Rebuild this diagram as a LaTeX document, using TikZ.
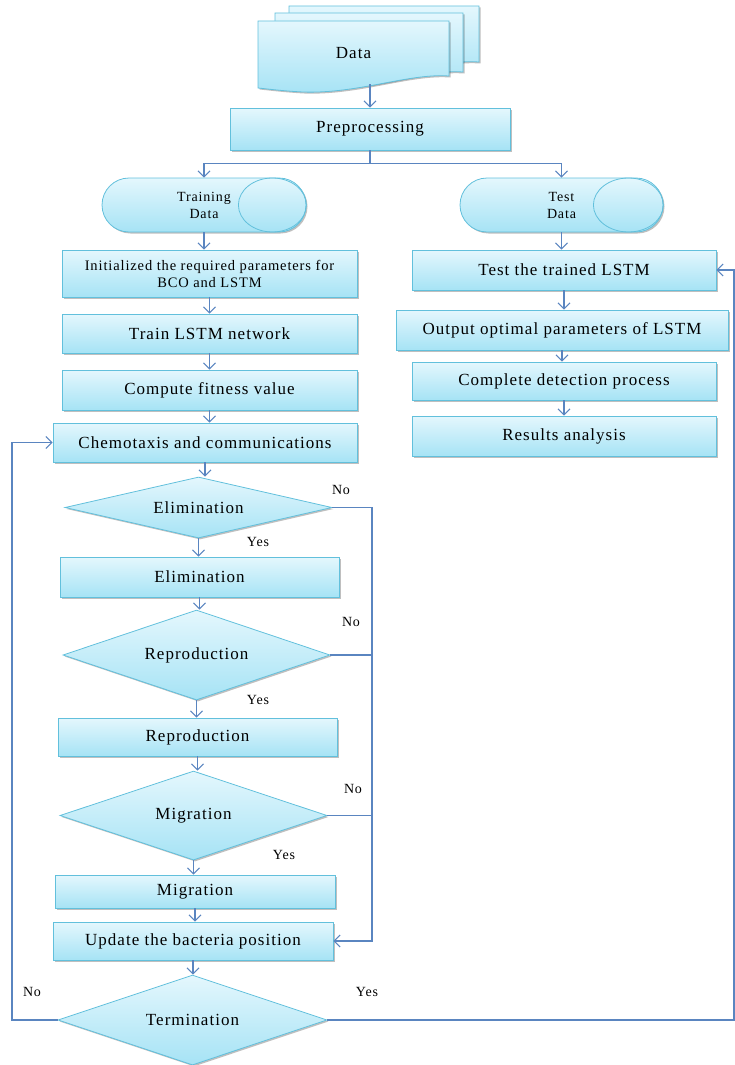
\documentclass[tikz,border=0pt]{standalone}
\usepackage{fontspec}
\setmainfont{Liberation Serif}
\newfontfamily\flowfont{Liberation Serif}[LetterSpace=6]
\usepackage{tikz}
\usetikzlibrary{arrows.meta,shapes.geometric,shapes.misc,shadows}
\definecolor{boxtop}{HTML}{E4F7FD}
\definecolor{boxbot}{HTML}{A6E3F5}
\definecolor{boxline}{HTML}{62C0DC}
\definecolor{flowline}{HTML}{5A85C0}
\def\docsheet(#1:#2:#3:#4){\draw[sheet] (#1,#3) -- (#2,#3) -- (#2,{#4-12}) .. controls ({#2-40},{#4-15}) and ({#1+100},{#4+6}) .. ({#1+45},{#4+4}) .. controls ({#1+25},{#4+3}) and ({#1+10},{#4+1}) .. (#1,#4) -- cycle;}
\tikzset{
  sheet/.style={draw=boxline, line width=0.8pt, top color=boxtop, bottom color=boxbot,
    drop shadow={shadow xshift=1.5pt, shadow yshift=-1.5pt, opacity=.25, fill=black}},
  flowbox/.style={sheet, rectangle, inner sep=2pt, font=\flowfont\fontsize{17}{20}\selectfont},
  decision/.style={flowbox, diamond, aspect=4.4, inner sep=1pt},
  store/.style={flowbox, rounded rectangle, align=center, font=\flowfont\fontsize{14}{17}\selectfont},
  flow/.style={draw=flowline, line width=1.1pt, -{Straight Barb[length=6pt,width=12pt]}},
  link/.style={draw=flowline, line width=1.1pt},
  answer/.style={inner sep=0pt, font=\flowfont\fontsize{14}{17}\selectfont}
}

\begin{document}
\begin{tikzpicture}[x=1pt,y=-1pt]
			%%%%% START %%%%%
			\useasboundingbox (0,0) rectangle (735,1065);
			
			% data pages
			\docsheet(289:479:6:74)
			\docsheet(275:463:13:84)
			\docsheet(258:449:21:88)
			\node[minimum width=191pt, minimum height=62pt, font=\flowfont\fontsize{17}{20}\selectfont] (data) at (353.5, 53) {Data};
			
			\node[flowbox, minimum width=280pt, minimum height=42pt] (prep) at (370, 129) {Preprocessing};
			
			\node[store, minimum width=208pt, minimum height=54pt] (train) at (204, 205) {Training\\Data};
			\draw[boxline, line width=0.8pt] ([xshift=-34pt]train.east) ellipse [x radius=34, y radius=27];
			\node[store, minimum width=207pt, minimum height=54pt] (test) at (561.5, 205) {Test\\Data};
			\draw[boxline, line width=0.8pt] ([xshift=-35pt]test.east) ellipse [x radius=35, y radius=27];
			
			% left column
			\node[flowbox, minimum width=295pt, minimum height=47pt, align=center, font=\flowfont\fontsize{14.5}{17}\selectfont, inner sep=1pt] (init) at (209.5, 273.5) {Initialized the required parameters for\\BCO and LSTM};
			\node[flowbox, minimum width=295pt, minimum height=39pt] (trainL) at (209.5, 333.5) {Train LSTM network};
			\node[flowbox, minimum width=295pt, minimum height=40pt] (fitness) at (209.5, 390) {Compute fitness value};
			\node[flowbox, minimum width=304pt, minimum height=39pt] (chemo) at (205, 442.5) {Chemotaxis and communications};
			
			\node[decision, minimum width=267pt, minimum height=61pt] (elimD) at (198.5, 507.5) {Elimination};
			\node[flowbox, minimum width=279pt, minimum height=40pt] (elimB) at (199.5, 577) {Elimination};
			
			\node[decision, minimum width=267pt, minimum height=90pt] (reproD) at (196.5, 655) {Reproduction};
			\node[flowbox, minimum width=279pt, minimum height=38pt] (reproB) at (197.5, 737) {Reproduction};
			
			\node[decision, minimum width=267pt, minimum height=89pt] (migD) at (193.5, 815.5) {Migration};
			\node[flowbox, minimum width=280pt, minimum height=33pt] (migB) at (195, 891.5) {Migration};
			
			\node[flowbox, minimum width=280pt, minimum height=38pt] (update) at (193, 941) {Update the bacteria position};
			\node[decision, minimum width=269pt, minimum height=90pt] (termD) at (192.5, 1020) {Termination};
			
			% right column
			\node[flowbox, minimum width=304pt, minimum height=40pt] (testL) at (564, 270) {Test the trained LSTM};
			\node[flowbox, minimum width=332pt, minimum height=40pt] (output) at (562, 330) {Output optimal parameters of LSTM};
			\node[flowbox, minimum width=304pt, minimum height=38pt] (detect) at (564, 381) {Complete detection process};
			\node[flowbox, minimum width=304pt, minimum height=40pt] (results) at (564, 436) {Results analysis};
			
			% arrows
			\draw[flow] (prep.north |- data.south) -- (prep.north);
			\draw[flow] (prep.south) -- ++(0,13) -| (train.north);
			\draw[flow] (prep.south) -- ++(0,13) -| (test.north);
			
			\draw[flow] (train.south) -- (train.south |- init.north);
			\draw[flow] (init.south) -- (trainL.north);
			\draw[flow] (trainL.south) -- (fitness.north);
			\draw[flow] (fitness.south) -- (fitness.south |- chemo.north);
			\draw[flow] (chemo.south) -- (chemo.south |- elimD.north);
			\draw[flow] (elimD.south) -- (elimD.south |- elimB.north);
			\draw[flow] (elimB.south) -- (elimB.south |- reproD.north);
			\draw[flow] (reproD.south) -- (reproD.south |- reproB.north);
			\draw[flow] (reproB.south) -- (reproB.south |- migD.north);
			\draw[flow] (migD.south) -- (migD.south |- migB.north);
			\draw[flow] (migB.south) -- (migB.south |- update.north);
			\draw[flow] (update.south) -- (update.south |- termD.north);
			
			\draw[flow] (test.south) -- (test.south |- testL.north);
			\draw[flow] (testL.south) -- (testL.south |- output.north);
			\draw[flow] (output.south) -- (output.south |- detect.north);
			\draw[flow] (detect.south) -- (detect.south |- results.north);
			
			% no / yes loops
			\coordinate (noR) at (372, 0);
			\coordinate (noL) at (12, 0);
			\coordinate (yesR) at (734, 0);
			\draw[flow] (elimD.east) -- (elimD.east -| noR) |- (update.east);
			\draw[link] (reproD.east) -- (reproD.east -| noR);
			\draw[link] (migD.east) -- (migD.east -| noR);
			\draw[flow] (termD.west) -- (termD.west -| noL) |- (chemo.west);
			\draw[flow] (termD.east) -- (termD.east -| yesR) |- (testL.east);
			
			\node[answer] (noElim) at (341, 490) {No};
			\node[answer] (yesElim) at (258, 542) {Yes};
			\node[answer] (noRepro) at (351, 622) {No};
			\node[answer] (yesRepro) at (258, 700) {Yes};
			\node[answer] (noMig) at (353, 789) {No};
			\node[answer] (yesMig) at (284, 855) {Yes};
			\node[answer] (noTerm) at (32, 992) {No};
			\node[answer] (yesTerm) at (367, 992) {Yes};
			
			%%%%% END %%%%%
\end{tikzpicture}
\end{document}
